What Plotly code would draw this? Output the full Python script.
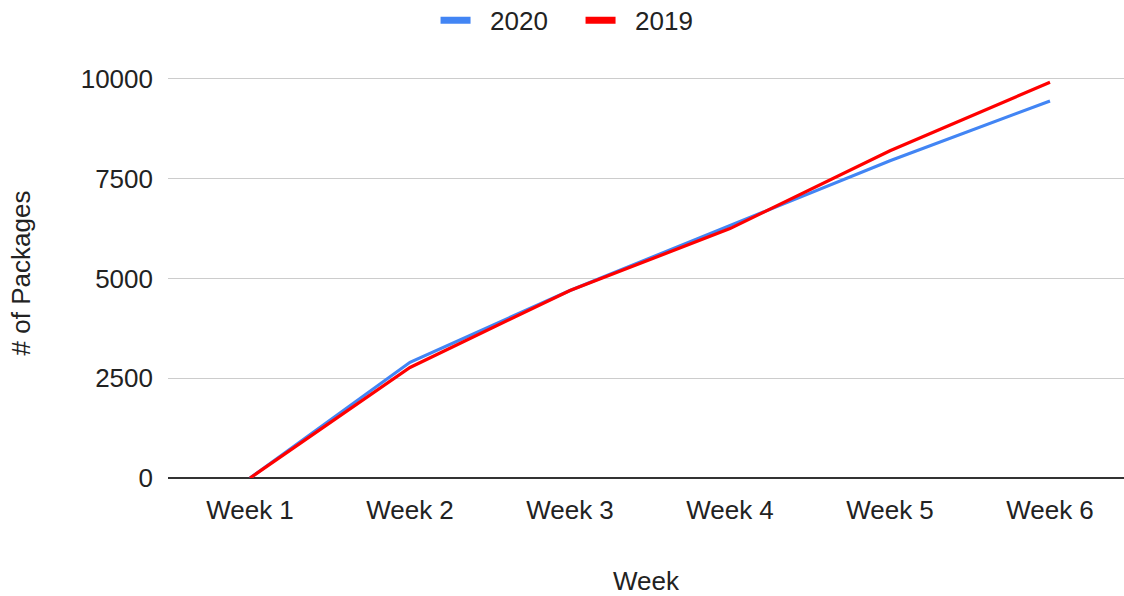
import plotly.graph_objects as go

weeks = ["Week 1", "Week 2", "Week 3", "Week 4", "Week 5", "Week 6"]
packages_2020 = [0, 2900, 4700, 6330, 7950, 9450]
packages_2019 = [0, 2770, 4700, 6250, 8200, 9920]

series = [("2020", packages_2020, "#4285F4"), ("2019", packages_2019, "#FF0000")]

font_family = "Liberation Sans, Arial, sans-serif"
label_pad = "\u00a0\u00a0"  # gap between legend swatch and its label

fig = go.Figure()
for name, values, color in series:
    fig.add_trace(go.Scatter(
        x=weeks, y=values, mode="lines", name=name,
        line=dict(color=color, width=3.2), showlegend=False,
    ))
# legend entries with thicker swatches
for name, values, color in series:
    fig.add_trace(go.Scatter(
        x=[None], y=[None], mode="lines", name=label_pad + name,
        line=dict(color=color, width=7), showlegend=True,
    ))

fig.update_layout(
    width=1124, height=596,
    margin=dict(l=168, r=0, t=68, b=118),
    paper_bgcolor="white", plot_bgcolor="white",
    font=dict(family=font_family, size=26, color="#222222"),
    legend=dict(orientation="h", x=0.3875, xanchor="left", xref="container",
                y=0.966, yanchor="middle", yref="container",
                itemwidth=30, entrywidth=100, entrywidthmode="pixels",
                font=dict(size=26, color="#222222")),
    xaxis=dict(
        type="category", range=[-0.5125, 5.4625],
        showgrid=False, ticks="", tickfont=dict(size=26),
        ticklabelstandoff=14,
        title=dict(text="Week", font=dict(size=26), standoff=48),
        showline=False, zeroline=False,
    ),
    yaxis=dict(
        range=[0, 10275], tickvals=[0, 2500, 5000, 7500, 10000],
        ticktext=["0", "2500", "5000", "7500", "10000"],
        showgrid=True, gridcolor="#cccccc", gridwidth=1,
        zeroline=True, zerolinecolor="#333333", zerolinewidth=2,
        ticks="", ticklabelstandoff=14, tickfont=dict(size=26),
        title=dict(text="# of Packages", font=dict(size=26), standoff=42),
    ),
)

fig.write_html("out.html")
